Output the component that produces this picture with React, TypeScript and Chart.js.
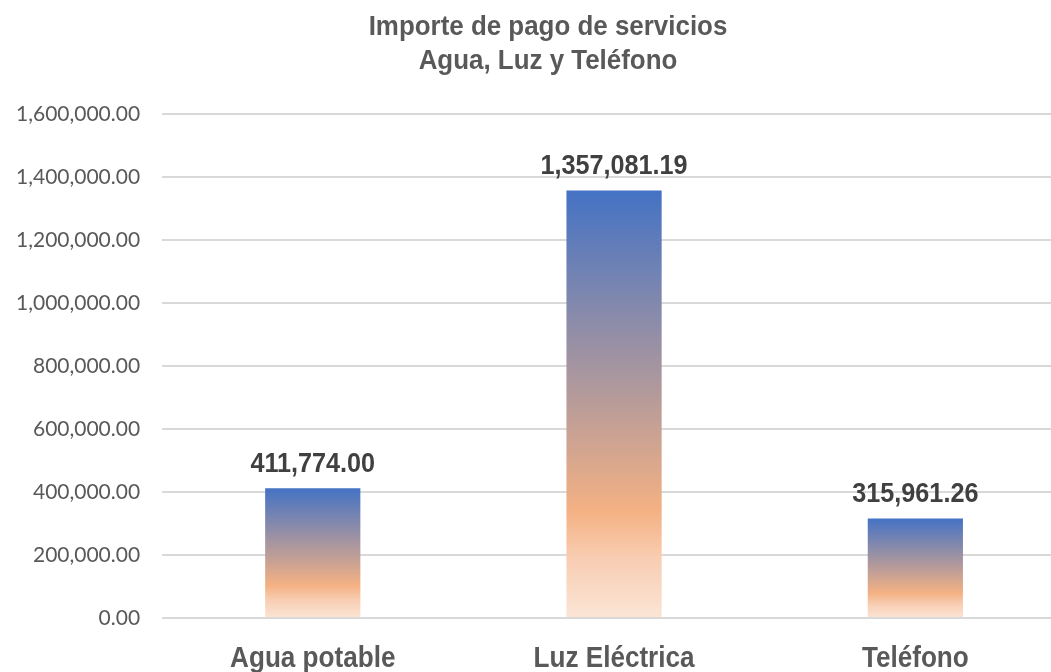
import React, { useEffect, useRef } from "react";
import { Chart, registerables } from "chart.js";

Chart.register(...registerables);

const categories = ["Agua potable", "Luz Eléctrica", "Teléfono"];
const values = [411774.0, 1357081.19, 315961.26];
const titleLines = ["Importe de pago de servicios", "Agua, Luz y Teléfono"];
const yMax = 1600000;
const yStep = 200000;

const fmt = (v: number) =>
  v.toLocaleString("en-US", { minimumFractionDigits: 2, maximumFractionDigits: 2 });

const BOLD = "'Liberation Sans', Arial, sans-serif";

function drawNarrow(ctx: any, text: string, x: number, y: number, sx: number) {
  ctx.save();
  ctx.translate(x, y);
  ctx.scale(sx, 1);
  ctx.fillText(text, 0, 0);
  ctx.restore();
}

export default function App() {
  const ref = useRef<HTMLCanvasElement | null>(null);
  useEffect(() => {
    if (!ref.current) return;
    const textPlugin = {
      id: "texts",
      afterDatasetsDraw(chart: any) {
        const ctx = chart.ctx;
        const meta = chart.getDatasetMeta(0);
        ctx.save();
        ctx.textAlign = "center";
        // value labels
        ctx.font = `bold 28px ${BOLD}`;
        ctx.fillStyle = "#404040";
        ctx.textBaseline = "bottom";
        meta.data.forEach((el: any, i: number) => {
          drawNarrow(ctx, fmt(values[i]), el.x, el.y - 10, 0.9);
        });
        // category labels
        ctx.font = `bold 30px ${BOLD}`;
        ctx.fillStyle = "#595959";
        ctx.textBaseline = "middle";
        meta.data.forEach((el: any, i: number) => {
          drawNarrow(ctx, categories[i], el.x, chart.chartArea.bottom + 41, 0.87);
        });
        // title
        ctx.font = `bold 27px ${BOLD}`;
        ctx.fillStyle = "#595959";
        drawNarrow(ctx, titleLines[0], 548, 28, 0.96);
        drawNarrow(ctx, titleLines[1], 548, 62, 0.96);
        ctx.restore();
      },
    };
    const chart = new Chart(ref.current, {
      type: "bar",
      data: {
        labels: categories,
        datasets: [
          {
            data: values,
            backgroundColor: (c: any) => {
              const ch = c.chart;
              if (!ch.chartArea || c.parsed == null) return "#F4B183";
              const ys = ch.scales.y;
              const top = ys.getPixelForValue(c.parsed.y);
              const bot = ys.getPixelForValue(0);
              if (!isFinite(top) || !isFinite(bot) || bot - top < 1) return "#F4B183";
              const g = ch.ctx.createLinearGradient(0, top, 0, bot);
              g.addColorStop(0, "#4472C4");
              g.addColorStop(0.75, "#F4B183");
              g.addColorStop(0.86, "#F8CDB2");
              g.addColorStop(1, "#FBE5D6");
              return g;
            },
            borderWidth: 0,
            categoryPercentage: 1,
            barPercentage: 0.316,
          },
        ],
      },
      options: {
        animation: false,
        responsive: true,
        maintainAspectRatio: false,
        layout: { padding: { top: 114, left: -6, right: 0, bottom: 46 } },
        plugins: {
          legend: { display: false },
          title: { display: false },
          tooltip: { enabled: false },
        },
        scales: {
          x: {
            grid: { display: false },
            border: { display: false },
            ticks: { display: false },
          },
          y: {
            min: 0,
            max: yMax,
            ticks: {
              stepSize: yStep,
              color: "#595959",
              font: { family: "Lato, 'Open Sans', sans-serif", size: 21 },
              padding: 22,
              callback: (v: any) => fmt(Number(v)),
            },
            grid: { color: "#D9D9D9", lineWidth: 2, drawTicks: false },
            border: { display: false },
          },
        },
      },
      plugins: [textPlugin],
    });
    return () => chart.destroy();
  }, []);
  return (
    <div
      style={{
        position: "fixed",
        left: 0,
        top: 0,
        width: 1051,
        height: 672,
        overflow: "hidden",
        background: "#fff",
      }}
    >
      <div style={{ width: 1066, height: 672, position: "relative" }}>
        <canvas ref={ref} />
      </div>
    </div>
  );
}
